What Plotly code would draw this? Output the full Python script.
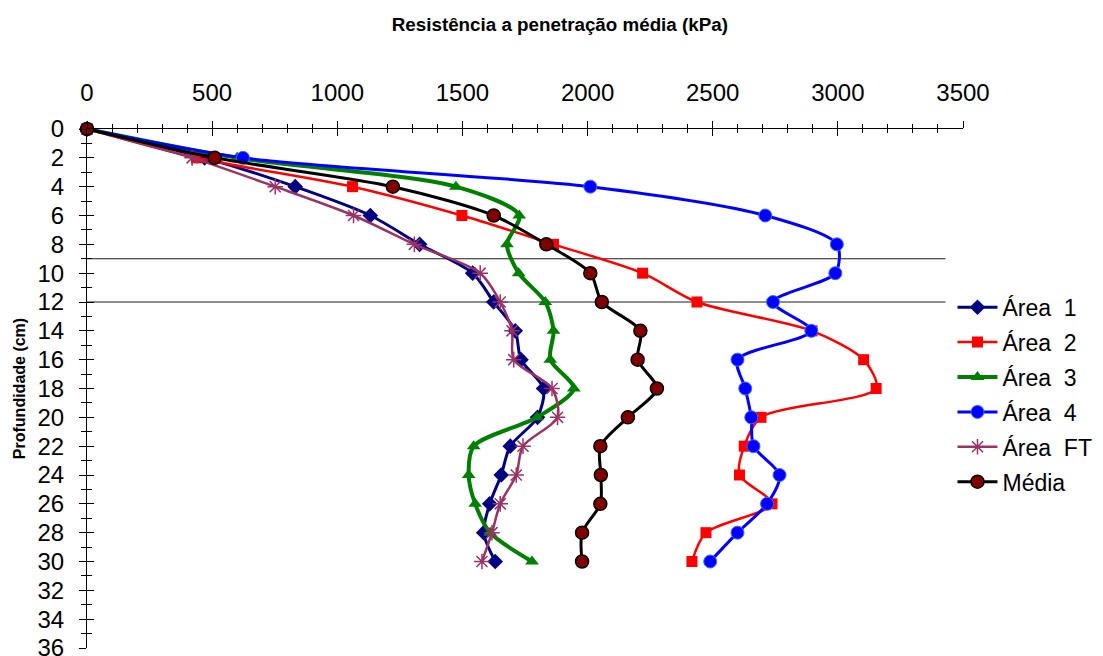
import plotly.graph_objects as go

# ---- data ----
depth = [0, 2, 4, 6, 8, 10, 12, 14, 16, 18, 20, 22, 24, 26, 28, 30]
area1 = [0, 470, 832, 1132, 1329, 1541, 1625, 1711, 1734, 1824, 1800, 1691, 1655, 1609, 1585, 1631]
area2 = [0, 437, 1061, 1498, 1864, 2220, 2437, 2897, 3103, 3153, 2693, 2626, 2607, 2737, 2473, 2417]
area3 = [0, 600, 1474, 1727, 1678, 1725, 1831, 1864, 1851, 1945, 1798, 1545, 1525, 1551, 1611, 1778]
area4 = [0, 623, 2011, 2710, 2996, 2990, 2741, 2894, 2599, 2630, 2654, 2663, 2767, 2717, 2599, 2490]
areaFT = [0, 420, 752, 1065, 1308, 1571, 1651, 1698, 1705, 1858, 1880, 1742, 1715, 1651, 1618, 1578]
media = [0, 510, 1222, 1625, 1835, 2011, 2057, 2211, 2200, 2277, 2161, 2051, 2053, 2051, 1978, 1978]

series_names = ["Área\u00a0\u00a01", "Área\u00a0\u00a02", "Área\u00a0\u00a03",
                "Área\u00a0\u00a04", "Área\u00a0\u00a0FT", "Média"]
reference_depths = [9, 12]
reference_line_end = 3430

x_range = [0, 3500]
y_range = [36, 0]

FONT = "Liberation Sans, Arial, sans-serif"

styles = [
    dict(line=dict(color="#000080", width=3), marker=dict(symbol="diamond", size=12, color="#000080")),
    dict(line=dict(color="#FF0000", width=2.5), marker=dict(symbol="square", size=11, color="#FF0000")),
    dict(line=dict(color="#008000", width=4), marker=dict(symbol="triangle-up", size=12, color="#008000")),
    dict(line=dict(color="#0000FF", width=3), marker=dict(symbol="circle", size=13, color="#0000FF",
                                                          line=dict(color="#3F6BFF", width=1))),
    dict(line=dict(color="#993366", width=2.5), marker=dict(symbol="asterisk-open", size=13, color="#993366",
                                                            line=dict(color="#993366", width=1.5))),
    dict(line=dict(color="#000000", width=3), marker=dict(symbol="circle", size=13, color="#800000",
                                                          line=dict(color="#000000", width=1.5))),
]

fig = go.Figure()
for i, (name, vals) in enumerate(zip(series_names, [area1, area2, area3, area4, areaFT, media])):
    st = styles[i]
    fig.add_trace(go.Scatter(
        x=vals, y=depth, name=name, mode="lines+markers",
        line=dict(shape="spline", smoothing=0.8, **st["line"]),
        marker=st["marker"], cliponaxis=False, legendgroup=f"g{i}",
    ))

# invisible trace for the overlay axes (inner half of crossing ticks)
fig.add_trace(go.Scatter(x=[None], y=[None], xaxis="x2", yaxis="y2",
                         showlegend=False, hoverinfo="skip"))

for d in reference_depths:
    fig.add_shape(type="line", x0=0, x1=reference_line_end, y0=d, y1=d,
                  xref="x", yref="y", line=dict(color="#1a1a1a", width=1), layer="below")

tickfont = dict(family=FONT, size=24, color="black")

fig.update_layout(
    width=1095, height=648,
    margin=dict(l=79, r=140, t=121, b=8, autoexpand=False),
    paper_bgcolor="white", plot_bgcolor="white",
    font=dict(family=FONT, color="black"),
    title=dict(text="<b>Resistência a penetração média (kPa)</b>",
               font=dict(family=FONT, size=18.8, color="black"),
               x=0.504, xanchor="center", y=0.974, yanchor="middle"),
    xaxis=dict(range=x_range, side="top", showgrid=False, zeroline=False,
               showline=True, linecolor="black", linewidth=1,
               ticks="outside", ticklen=7, tickcolor="black", tickwidth=1,
               dtick=500, tick0=0, tickfont=tickfont, ticklabelstandoff=10,
               ticklabeloverflow="allow",
               minor=dict(ticks="outside", ticklen=4, dtick=100, tickcolor="black", showgrid=False)),
    yaxis=dict(range=y_range, showgrid=False, zeroline=False,
               showline=True, linecolor="black", linewidth=1,
               ticks="outside", ticklen=7, tickcolor="black", tickwidth=1,
               dtick=2, tick0=0, tickfont=tickfont, ticklabelstandoff=10,
               ticklabeloverflow="allow",
               minor=dict(ticks="outside", ticklen=5, dtick=1, tickcolor="black", showgrid=False),
               title=dict(text="<b>Profundidade (cm)</b>", font=dict(family=FONT, size=16, color="black"),
                          standoff=7),
               automargin=False),
    xaxis2=dict(range=x_range, overlaying="x", side="top", anchor="y2", showgrid=False,
                zeroline=False, showline=False, showticklabels=False,
                ticks="inside", ticklen=7, tickcolor="black", dtick=500, tick0=0,
                minor=dict(ticks="inside", ticklen=4, dtick=100, tickcolor="black", showgrid=False)),
    yaxis2=dict(range=y_range, overlaying="y", side="left", anchor="x2", showgrid=False,
                zeroline=False, showline=False, showticklabels=False,
                ticks="inside", ticklen=7, tickcolor="black", dtick=2, tick0=0,
                minor=dict(ticks="inside", ticklen=5, dtick=1, tickcolor="black", showgrid=False)),
    legend=dict(x=0.988, xanchor="left", y=0.698, yanchor="top",
                font=dict(family=FONT, size=23, color="black"),
                bgcolor="rgba(0,0,0,0)", tracegroupgap=2, itemwidth=40),
    showlegend=True,
)

fig.write_html("out.html")
